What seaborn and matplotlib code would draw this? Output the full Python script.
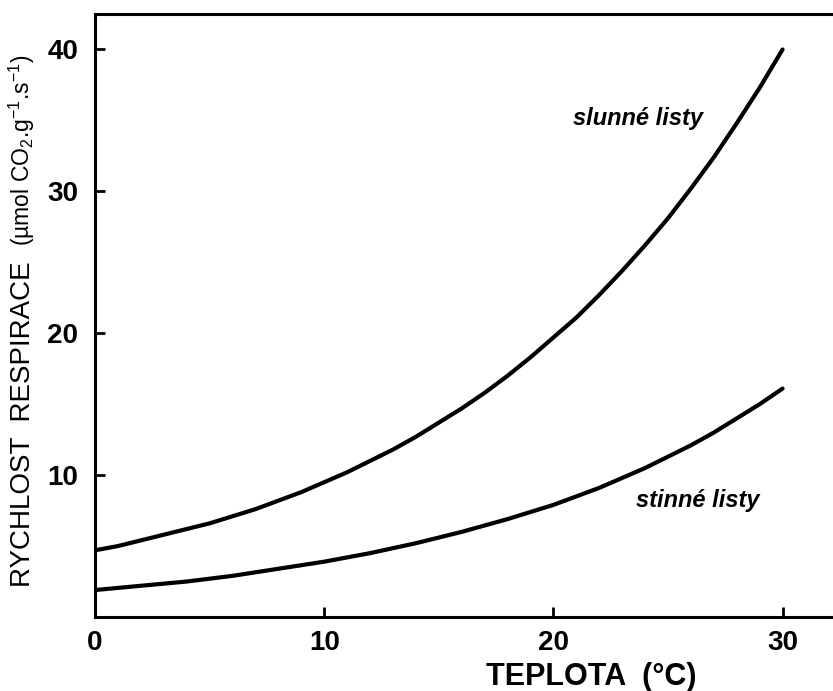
import matplotlib
matplotlib.use("Agg")
import matplotlib.pyplot as plt
import seaborn as sns
import pandas as pd

# Data
teplota = list(range(0, 31))
slunne = [4.7, 5.0, 5.4, 5.8, 6.2, 6.6, 7.1, 7.6, 8.2, 8.8, 9.5, 10.2, 11.0, 11.8, 12.7, 13.7,
          14.7, 15.8, 17.0, 18.3, 19.7, 21.1, 22.7, 24.4, 26.2, 28.1, 30.2, 32.4, 34.8, 37.3, 40.0]
stinne = [1.9, 2.05, 2.2, 2.35, 2.5, 2.7, 2.9, 3.15, 3.4, 3.65, 3.9, 4.2, 4.5, 4.85, 5.2, 5.6,
          6.0, 6.45, 6.9, 7.4, 7.9, 8.5, 9.1, 9.8, 10.5, 11.3, 12.1, 13.0, 14.0, 15.0, 16.1]
x_ticks = [0, 10, 20, 30]
y_ticks = [10, 20, 30, 40]
series_names = ["slunné listy", "stinné listy"]

sns.set_style("ticks")
plt.rcParams['font.family'] = ['Liberation Sans', 'DejaVu Sans']
plt.rcParams['mathtext.fontset'] = 'custom'
plt.rcParams['mathtext.rm'] = 'Liberation Sans'
plt.rcParams['mathtext.it'] = 'Liberation Sans:italic'
plt.rcParams['text.color'] = 'black'
plt.rcParams['xtick.color'] = 'black'
plt.rcParams['ytick.color'] = 'black'
plt.rcParams['axes.labelcolor'] = 'black'

df = pd.DataFrame({
    "t": teplota * 2,
    "r": slunne + stinne,
    "s": [series_names[0]] * len(teplota) + [series_names[1]] * len(teplota),
})

fig = plt.figure(figsize=(8.33, 6.91), dpi=100)
ax = fig.add_axes([95 / 833, 1 - 617 / 691, 1 - 95 / 833, (617 - 14) / 691])

sns.lineplot(data=df, x="t", y="r", hue="s", palette=["black", "black"],
             linewidth=3.0, legend=False, ax=ax, solid_capstyle="round")

ax.set_xlim(0, 32.2)
ax.set_ylim(0, 42.5)
ax.set_xticks(x_ticks)
ax.set_yticks(y_ticks)
ax.set_xticklabels([str(v) for v in x_ticks], fontsize=20, fontweight="bold")
ax.set_yticklabels([str(v) for v in y_ticks], fontsize=20, fontweight="bold")
ax.tick_params(direction="in", length=7, width=2, colors="black", pad=9)
ax.tick_params(axis="y", pad=12)

for side in ["left", "bottom", "top"]:
    ax.spines[side].set_linewidth(2.2)
    ax.spines[side].set_color("black")
ax.spines["right"].set_visible(False)

ax.set_xlabel("")
ax.set_ylabel("")

fig.text(591 / 833, 1 - 677 / 691, "TEPLOTA  (°C)", fontsize=22, fontweight="bold",
         ha="center", va="center")
fig.text(23 / 833, 1 - 424 / 691, "RYCHLOST  RESPIRACE", fontsize=20,
         rotation=90, ha="center", va="center")
fig.text(22 / 833, 1 - 150 / 691, r"(µmol CO$_2$.g$^{-1}$.s$^{-1}$)", fontsize=16.5,
         rotation=90, ha="center", va="center")

ax.text(23.7, 35.1, series_names[0], fontsize=17, fontweight="bold", fontstyle="italic",
        ha="center", va="center")
ax.text(26.3, 8.2, series_names[1], fontsize=17, fontweight="bold", fontstyle="italic",
        ha="center", va="center")

fig.savefig("out.png", dpi=100)
